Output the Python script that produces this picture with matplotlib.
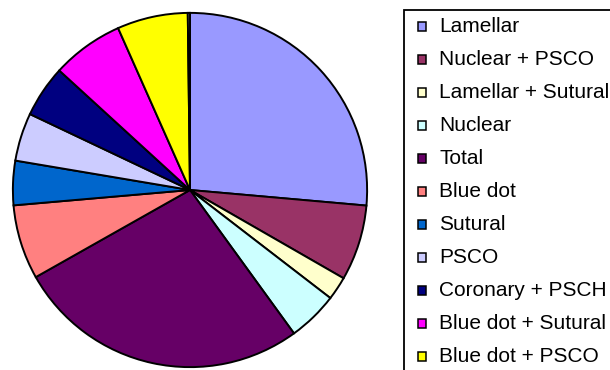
import matplotlib
matplotlib.use("Agg")
import matplotlib.pyplot as plt
from matplotlib.patches import Rectangle

plt.rcParams['font.family'] = ['Liberation Sans', 'DejaVu Sans']

# ---- data ----
labels = ["Lamellar", "Nuclear + PSCO", "Lamellar + Sutural", "Nuclear", "Total",
          "Blue dot", "Sutural", "PSCO", "Coronary + PSCH", "Blue dot + Sutural",
          "Blue dot + PSCO"]
values = [26.4, 6.9, 2.14, 4.57, 26.8, 6.8, 4.04, 4.39, 4.74, 6.56, 6.45]
extra_value = [0.2]          # tiny 12th slice whose legend entry is cut off
colors = ["#9999FF", "#993366", "#FFFFCC", "#CCFFFF", "#660066", "#FF8080",
          "#0066CC", "#CCCCFF", "#000080", "#FF00FF", "#FFFF00"]
extra_color = ["#C0C0C0"]

W, H = 610, 370
fig = plt.figure(figsize=(W / 100, H / 100), dpi=100)
fig.patch.set_facecolor("white")

# ---- pie ----
cx, cy, r = 190, 190, 178
ax = fig.add_axes([(cx - r) / W, (H - cy - r) / H, 2 * r / W, 2 * r / H])
ax.pie(values + extra_value, colors=colors + extra_color, startangle=90,
       counterclock=False,
       wedgeprops=dict(edgecolor="black", linewidth=1.4, antialiased=True))
ax.set_xlim(-1.005, 1.005)
ax.set_ylim(-1.005, 1.005)
ax.set_aspect("equal")
ax.axis("off")

# ---- legend (pixel overlay) ----
lax = fig.add_axes([0, 0, 1, 1], zorder=5)
lax.set_xlim(0, W)
lax.set_ylim(H, 0)
lax.axis("off")
lax.patch.set_alpha(0)

box_left, box_top = 403.5, 10
lax.add_patch(Rectangle((box_left, box_top), 300, 400, facecolor="white",
                        edgecolor="black", linewidth=1.3, clip_on=False))
row0, step = 26.5, 33.0
msize = 8.5
for i, (lab, col) in enumerate(zip(labels, colors)):
    y = row0 + step * i
    lax.add_patch(Rectangle((417.5, y - msize / 2), msize, msize, facecolor=col,
                            edgecolor="black", linewidth=1.1))
    lax.text(439, y, lab, fontsize=15, va="center", ha="left", color="black")

fig.savefig("out.png", dpi=100)
